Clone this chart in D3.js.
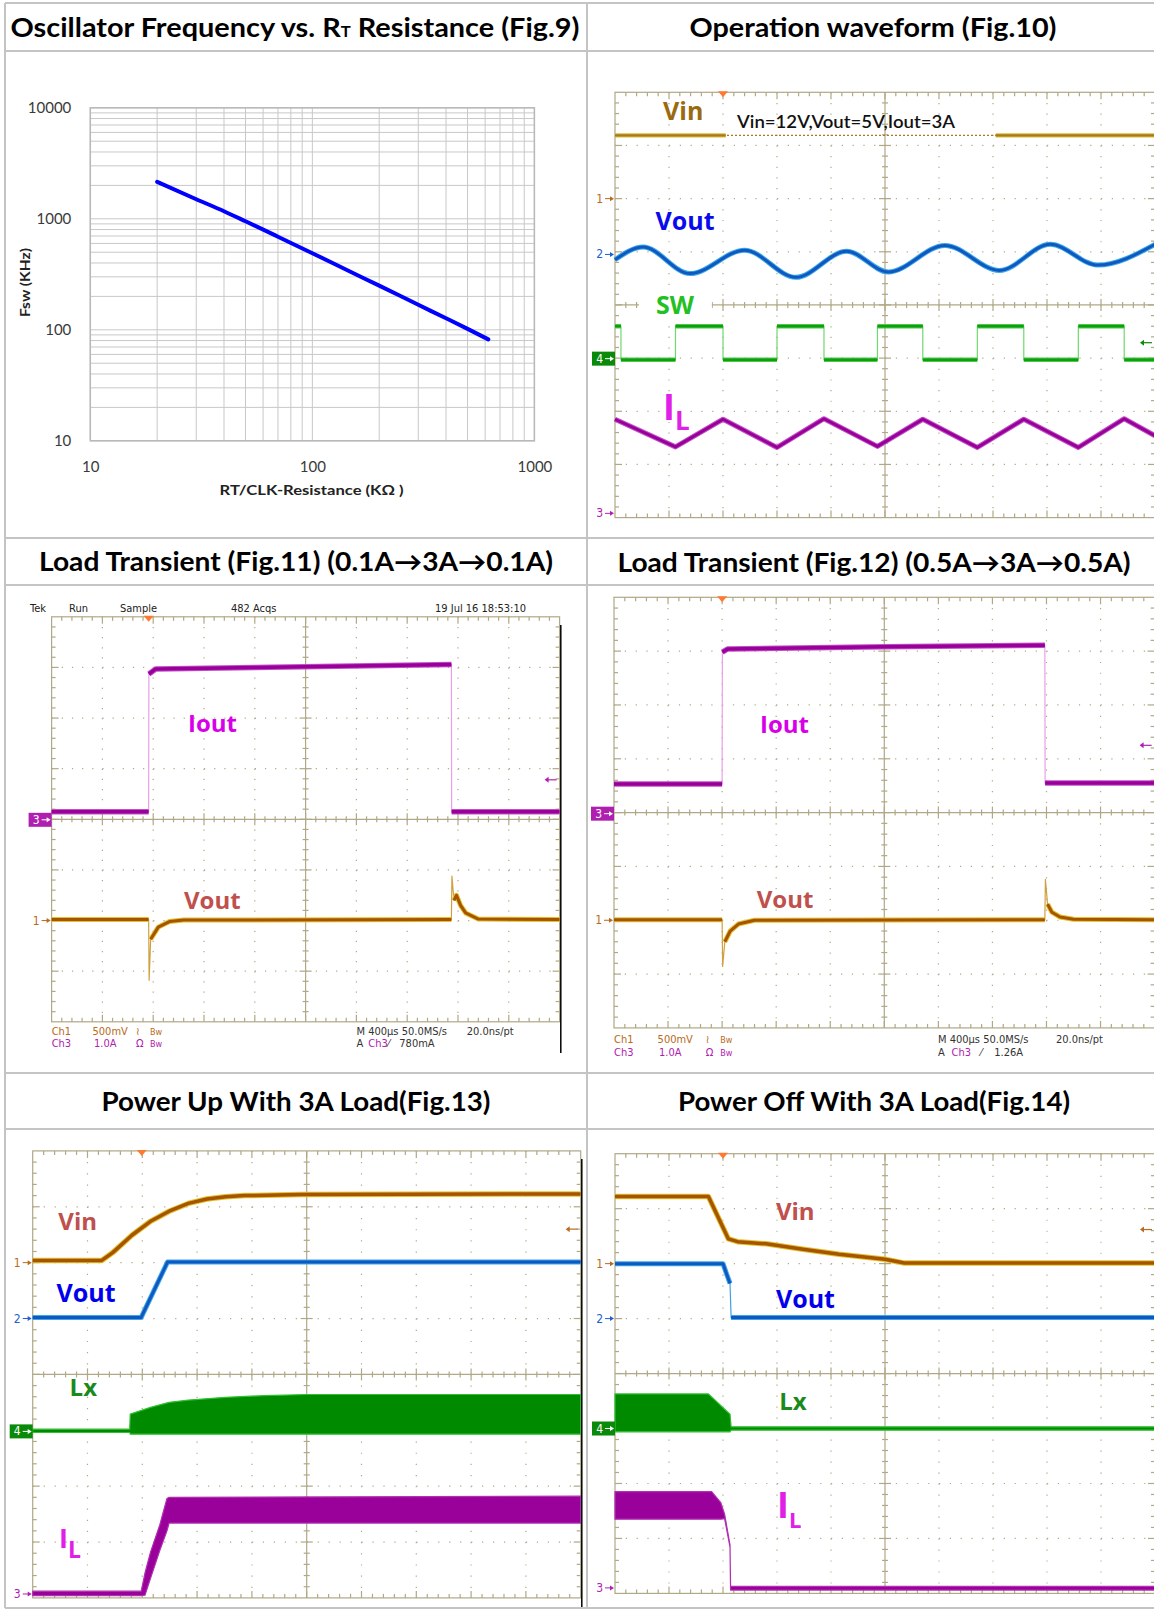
<!DOCTYPE html>
<html>
<head>
<meta charset="utf-8">
<script src="https://cdnjs.cloudflare.com/ajax/libs/d3/7.8.5/d3.min.js"></script>
<style>
  body { margin: 0; background: #fff; }
  svg { display: block; }
</style>
</head>
<body>
<svg id="chart" width="1154" height="1610"></svg>
<script>
// ---------- data ----------
// Fig.9 : oscillator frequency vs RT resistance
const fig9Resistance = [20, 30, 40, 50, 70, 100, 150, 200, 300, 400, 500, 620];
const fig9Fsw = [2150, 1500, 1170, 950, 690, 490, 330, 250, 168, 127, 102, 82];
const fig9XTicks = [10, 100, 1000];
const fig9YTicks = [10, 100, 1000, 10000];

// scope traces: time in divisions (0..10), level in divisions from bottom (0..8)
// Fig.10 operation waveform
const fig10VinLevel = 7.19;
const fig10VinBursts = [[0, 2.05], [7.05, 10]];
const fig10VoutT = [0, 0.52, 1.39, 2.40, 3.35, 4.29, 5.06, 6.11, 7.12, 8.06, 8.94, 10];
const fig10VoutV = [4.85, 5.09, 4.59, 5.03, 4.52, 5.01, 4.62, 5.12, 4.65, 5.14, 4.75, 5.14];
const fig10SwT = [0, 0.11, 1.12, 2.0, 3.0, 3.87, 4.86, 5.7, 6.71, 7.57, 8.58, 9.43, 10];
const fig10SwV = [3.6, 2.97, 3.6, 2.97, 3.6, 2.97, 3.6, 2.97, 3.6, 2.97, 3.6, 2.97, 2.97];
const fig10IlT = [0, 1.12, 2.0, 3.0, 3.87, 4.86, 5.7, 6.71, 7.57, 8.58, 9.43, 10];
const fig10IlV = [1.85, 1.33, 1.85, 1.32, 1.86, 1.34, 1.85, 1.32, 1.85, 1.32, 1.86, 1.54];

// Fig.11 load transient 0.1A -> 3A -> 0.1A
const fig11IoutT = [0, 1.91, 1.915, 2.05, 4.0, 7.87, 7.875, 10];
const fig11IoutV = [4.15, 4.15, 6.87, 6.97, 7.0, 7.06, 4.15, 4.15];
const fig11VoutT = [0, 1.91, 1.92, 1.95, 2.1, 2.32, 2.6, 7.87, 7.88, 7.92, 7.97, 8.05, 8.15, 8.4, 10];
const fig11VoutV = [2.02, 2.02, 0.82, 1.63, 1.87, 1.98, 2.01, 2.02, 2.88, 2.4, 2.5, 2.3, 2.15, 2.03, 2.02];

// Fig.12 load transient 0.5A -> 3A -> 0.5A
const fig12IoutT = [0, 2.0, 2.005, 2.1, 5.0, 7.97, 7.975, 10];
const fig12IoutV = [4.53, 4.53, 6.98, 7.04, 7.08, 7.11, 4.55, 4.55];
const fig12VoutT = [0, 2.0, 2.01, 2.05, 2.15, 2.3, 2.6, 7.97, 7.98, 8.02, 8.1, 8.25, 8.5, 10];
const fig12VoutV = [2.01, 2.01, 1.14, 1.6, 1.8, 1.93, 2.0, 2.01, 2.76, 2.3, 2.15, 2.06, 2.02, 2.01];

// Fig.13 power up with 3A load
const fig13VinT = [0, 1.26, 1.46, 1.81, 2.15, 2.49, 2.84, 3.18, 3.52, 3.87, 4.9, 10];
const fig13VinV = [6.04, 6.04, 6.18, 6.49, 6.74, 6.92, 7.06, 7.14, 7.18, 7.2, 7.22, 7.23];
const fig13VoutT = [0, 1.98, 2.46, 10];
const fig13VoutV = [5.02, 5.02, 6.01, 6.01];
const fig13LxT = [0, 1.77, 1.78, 2.15, 2.49, 2.84, 3.52, 4.21, 5.0, 10];
const fig13LxTop = [3.02, 3.02, 3.29, 3.41, 3.5, 3.54, 3.59, 3.62, 3.64, 3.64];
const fig13LxBottom = [2.96, 2.96, 2.93, 2.93, 2.93, 2.93, 2.93, 2.93, 2.93, 2.93];
const fig13IlT = [0, 1.98, 2.05, 2.15, 2.32, 2.45, 2.49, 10];
const fig13IlTop = [0.12, 0.12, 0.45, 0.82, 1.31, 1.78, 1.8, 1.82];
const fig13IlBottom = [0.04, 0.04, 0.05, 0.35, 0.85, 1.2, 1.34, 1.34];

// Fig.14 power off with 3A load
const fig14VinT = [0, 1.73, 2.1, 2.27, 2.8, 3.48, 4.15, 5.0, 5.36, 10];
const fig14VinV = [7.22, 7.22, 6.45, 6.4, 6.36, 6.26, 6.17, 6.08, 6.01, 6.01];
const fig14VoutT = [0, 2.0, 2.06, 2.13, 2.15, 10];
const fig14VoutV = [6.0, 6.0, 5.83, 5.64, 5.02, 5.02];
const fig14LxT = [0, 1.73, 2.13, 2.15, 10];
const fig14LxTop = [3.63, 3.63, 3.26, 3.03, 3.03];
const fig14LxBottom = [2.94, 2.94, 2.94, 2.97, 2.97];
const fig14IlT = [0, 1.79, 1.96, 2.03, 2.13, 2.14, 10];
const fig14IlTop = [1.85, 1.85, 1.65, 1.44, 0.88, 0.13, 0.13];
const fig14IlBottom = [1.35, 1.35, 1.35, 1.36, 0.84, 0.06, 0.06];

// ---------- styles ----------
const svg = d3.select("#chart");
const TITLE_FONT = "Lato, 'DejaVu Sans', sans-serif";
const LABEL_FONT = "'Open Sans', 'Noto Sans', sans-serif";
const TEK_FONT = "'Liberation Sans Narrow', 'DejaVu Sans Condensed', 'Liberation Sans', sans-serif";
const GRID = "#b0a886";
const C1 = { thin: "#d0a040", glow: "#e2c230", main: "#a65400", mark: "#b86a20" };
const C1b = { thin: "#c8a040", glow: "#d8be40", main: "#a87a1c", mark: "#b86a20" };
const C2 = { thin: "#40a0e0", glow: "#38a8e8", main: "#1058c0", mark: "#2060d0" };
const C3 = { thin: "#e8a0e8", glow: "#c050c8", main: "#990099", mark: "#b020b0" };
const C4 = { thin: "#70d870", glow: "#40d040", main: "#169a16", mark: "#0a8a0a" };

// ---------- table frame ----------
const rowLines = [3, 51, 538, 585, 1073, 1129, 1608];
const colLines = [5, 587];
const frame = svg.append("g").attr("stroke", "#c4c4c4").attr("stroke-width", 2);
rowLines.forEach(y => frame.append("line").attr("x1", 5).attr("x2", 1154).attr("y1", y).attr("y2", y));
colLines.forEach(x => frame.append("line").attr("x1", x).attr("x2", x).attr("y1", 3).attr("y2", 1608));

const titles = [
  { x: 295, y: 37, len: 569, parts: ["Oscillator Frequency vs. R", "T", " Resistance (Fig.9)"] },
  { x: 873, y: 37, len: 367, parts: ["Operation waveform (Fig.10)"] },
  { x: 296, y: 571, len: 514, parts: ["Load Transient (Fig.11) (0.1A\u21923A\u21920.1A)"] },
  { x: 874, y: 572, len: 513, parts: ["Load Transient (Fig.12) (0.5A\u21923A\u21920.5A)"] },
  { x: 296, y: 1111, len: 389, parts: ["Power Up With 3A Load(Fig.13)"] },
  { x: 874, y: 1111, len: 392, parts: ["Power Off With 3A Load(Fig.14)"] }
];
titles.forEach(t => {
  const txt = svg.append("text").attr("x", t.x).attr("y", t.y)
    .attr("text-anchor", "middle").attr("font-family", TITLE_FONT)
    .attr("font-weight", 700).attr("font-size", 26).attr("fill", "#000")
    .attr("textLength", t.len).attr("lengthAdjust", "spacingAndGlyphs");
  t.parts.forEach((p, i) => {
    const s = txt.append("tspan").text(p);
    if (t.parts.length > 1 && i === 1) s.attr("font-size", 15);
  });
});

// ---------- Fig.9 ----------
{
  const x = d3.scaleLog().domain([10, 1000]).range([90.3, 534.4]);
  const y = d3.scaleLog().domain([10, 10000]).range([440.8, 107.8]);
  const g = svg.append("g");
  const grid = g.append("g").attr("stroke", "#c8c8c8").attr("stroke-width", 1);
  x.ticks().forEach(v => grid.append("line").attr("x1", x(v)).attr("x2", x(v)).attr("y1", y(10)).attr("y2", y(10000)));
  y.ticks().forEach(v => grid.append("line").attr("y1", y(v)).attr("y2", y(v)).attr("x1", x(10)).attr("x2", x(1000)));
  g.append("rect").attr("x", x(10)).attr("y", y(10000)).attr("width", x(1000) - x(10)).attr("height", y(10) - y(10000))
    .attr("fill", "none").attr("stroke", "#b8b8b8").attr("stroke-width", 1.5);

  const ya = g.append("g").attr("transform", `translate(${x(10)},0)`)
    .call(d3.axisLeft(y).tickValues(fig9YTicks).tickFormat(d3.format("d")).tickSize(0).tickPadding(19));
  const xa = g.append("g").attr("transform", `translate(0,${y(10)})`)
    .call(d3.axisBottom(x).tickValues(fig9XTicks).tickFormat(d3.format("d")).tickSize(0).tickPadding(21));
  [ya, xa].forEach(a => {
    a.select(".domain").remove();
    a.selectAll("text").attr("font-family", TITLE_FONT).attr("font-size", 15).attr("fill", "#3a3a3a");
  });

  g.append("text").attr("x", 311.6).attr("y", 495).attr("text-anchor", "middle")
    .attr("font-family", TITLE_FONT).attr("font-weight", 700).attr("font-size", 14).attr("fill", "#222")
    .attr("textLength", 184).attr("lengthAdjust", "spacingAndGlyphs")
    .text("RT/CLK-Resistance (K\u03a9 )");
  g.append("text").attr("transform", "translate(30,282.5) rotate(-90)").attr("text-anchor", "middle")
    .attr("font-family", TITLE_FONT).attr("font-weight", 700).attr("font-size", 14).attr("fill", "#222")
    .attr("textLength", 69).attr("lengthAdjust", "spacingAndGlyphs")
    .text("Fsw (KHz)");

  const line = d3.line().x((d, i) => x(fig9Resistance[i])).y(d => y(d)).curve(d3.curveMonotoneX);
  g.append("path").attr("d", line(fig9Fsw)).attr("fill", "none")
    .attr("stroke", "#0000ff").attr("stroke-width", 4).attr("stroke-linecap", "round");
}

// ---------- scope helpers ----------
function makeScope(b) {
  const g = svg.append("g");
  const x = d3.scaleLinear().domain([0, 10]).range([b.x, b.x + b.w]);
  const y = d3.scaleLinear().domain([0, 8]).range([b.y + b.h, b.y]);
  const sx = b.w / 50, sy = b.h / 40;
  const grid = g.append("g").attr("stroke", GRID).attr("fill", "none").attr("stroke-width", 1.2);
  d3.range(1, 10).filter(i => i !== 5).forEach(i =>
    grid.append("line").attr("x1", x(i)).attr("x2", x(i)).attr("y1", b.y).attr("y2", b.y + b.h)
      .attr("stroke-dasharray", `1.2 ${sy - 1.2}`));
  d3.range(1, 8).filter(i => i !== 4).forEach(i =>
    grid.append("line").attr("y1", y(i)).attr("y2", y(i)).attr("x1", b.x).attr("x2", b.x + b.w)
      .attr("stroke-dasharray", `1.2 ${sx - 1.2}`));
  grid.append("rect").attr("x", b.x).attr("y", b.y).attr("width", b.w).attr("height", b.h);
  grid.append("line").attr("x1", x(5)).attr("x2", x(5)).attr("y1", b.y).attr("y2", b.y + b.h);
  grid.append("line").attr("y1", y(4)).attr("y2", y(4)).attr("x1", b.x).attr("x2", b.x + b.w);
  // ticks every 1/5 division on the border and the centre cross
  d3.range(1, 50).forEach(k => {
    const t = k / 5, big = k % 5 === 0, px = x(t);
    const L = big ? 7 : 4;
    grid.append("line").attr("x1", px).attr("x2", px).attr("y1", b.y).attr("y2", b.y + L);
    grid.append("line").attr("x1", px).attr("x2", px).attr("y1", b.y + b.h - L).attr("y2", b.y + b.h);
    grid.append("line").attr("x1", px).attr("x2", px).attr("y1", y(4) - L + 1).attr("y2", y(4) + L - 1);
  });
  d3.range(1, 40).forEach(k => {
    const v = k / 5, big = k % 5 === 0, py = y(v);
    const L = big ? 7 : 4;
    grid.append("line").attr("y1", py).attr("y2", py).attr("x1", b.x).attr("x2", b.x + L);
    grid.append("line").attr("y1", py).attr("y2", py).attr("x1", b.x + b.w - L).attr("x2", b.x + b.w);
    grid.append("line").attr("y1", py).attr("y2", py).attr("x1", x(5) - L + 1).attr("x2", x(5) + L - 1);
  });
  const traces = g.append("g").attr("fill", "none").attr("stroke-linejoin", "round");
  const labels = g.append("g");
  return { g, x, y, b, traces, labels };
}

function stepPoints(ts, vs) {
  const out = [[ts[0], vs[0]]];
  for (let i = 1; i < ts.length; i++) {
    out.push([ts[i], vs[i - 1]]);
    out.push([ts[i], vs[i]]);
  }
  return out;
}

function trace(sc, pts, c, width, curve) {
  const p = pts.map(d => [sc.x(d[0]), sc.y(d[1])]);
  const line = d3.line().curve(curve || d3.curveLinear);
  sc.traces.append("path").attr("d", line(p)).attr("stroke", c.thin).attr("stroke-width", 1.2);
  const runs = [];
  let cur = [p[0]];
  for (let i = 1; i < p.length; i++) {
    const ddx = Math.abs(p[i][0] - p[i - 1][0]), ddy = Math.abs(p[i][1] - p[i - 1][1]);
    if (ddy > 3 * ddx + 2) { if (cur.length > 1) runs.push(cur); cur = [p[i]]; }
    else cur.push(p[i]);
  }
  if (cur.length > 1) runs.push(cur);
  runs.forEach(r => {
    sc.traces.append("path").attr("d", line(r)).attr("stroke", c.glow).attr("stroke-width", width + 2);
    sc.traces.append("path").attr("d", line(r)).attr("stroke", c.main).attr("stroke-width", width);
  });
}

const zip = (ts, vs) => ts.map((t, i) => [t, vs[i]]);

function band(sc, ts, top, bottom, c) {
  const area = d3.area().x((d, i) => sc.x(ts[i])).y0((d, i) => sc.y(bottom[i])).y1(d => sc.y(d));
  sc.traces.append("path").attr("d", area(top)).attr("fill", c.main).attr("stroke", c.glow).attr("stroke-width", 1.2);
}

function label(sc, text, t, v, color, size) {
  return sc.labels.append("text").attr("x", sc.x(t)).attr("y", sc.y(v)).text(text)
    .attr("fill", color).attr("font-size", size).attr("font-family", LABEL_FONT).attr("font-weight", 700);
}

function ilLabel(sc, t, v, size1, size2, color) {
  const txt = label(sc, "I", t, v, color, size1);
  txt.append("tspan").attr("dy", 10).attr("font-size", size2).text("L");
}

function markers(sc, list) {
  list.forEach(m => {
    const py = sc.y(m.v), x0 = sc.b.x;
    const col = m.c.mark;
    if (m.boxed) {
      sc.labels.append("rect").attr("x", x0 - 23).attr("y", py - 7).attr("width", 23).attr("height", 14).attr("fill", col);
    }
    const fg = m.boxed ? "#fff" : col;
    sc.labels.append("text").attr("x", x0 - 12).attr("y", py + 4).attr("text-anchor", "end")
      .attr("font-family", TEK_FONT).attr("font-size", 12).attr("fill", fg).text(m.ch);
    sc.labels.append("line").attr("x1", x0 - 10).attr("x2", x0 - 3).attr("y1", py).attr("y2", py)
      .attr("stroke", fg).attr("stroke-width", 1);
    sc.labels.append("path").attr("d", `M${x0 - 1},${py} l-4,-2.5 v5 z`).attr("fill", fg);
  });
}

function levelArrow(sc, v, c) {
  const py = sc.y(v), xr = sc.b.x + sc.b.w;
  sc.labels.append("line").attr("x1", xr - 13).attr("x2", xr - 3).attr("y1", py).attr("y2", py)
    .attr("stroke", c.mark).attr("stroke-width", 1.2);
  sc.labels.append("path").attr("d", `M${xr - 15},${py} l4,-3 v6 z`).attr("fill", c.mark);
}

function trigger(sc, t) {
  const px = sc.x(t), py = sc.b.y;
  sc.labels.append("path").attr("d", `M${px - 5},${py - 1} h10 l-5,6 z`).attr("fill", "#ff7a30");
}

function tekText(items, base) {
  items.forEach(d => svg.append("text").attr("x", d[1]).attr("y", base + (d[3] || 0))
    .attr("font-family", TEK_FONT).attr("font-size", d[4] || 11).attr("fill", d[2]).text(d[0]));
}

// ---------- Fig.10 ----------
{
  const sc = makeScope({ x: 615, y: 92.3, w: 540, h: 425.3 });
  sc.traces.append("path").attr("d", d3.line()([[sc.x(0), sc.y(fig10VinLevel)], [sc.x(10), sc.y(fig10VinLevel)]]))
    .attr("stroke", C1b.main).attr("stroke-width", 1.2).attr("stroke-dasharray", "2 2");
  fig10VinBursts.forEach(s => trace(sc, [[s[0], fig10VinLevel], [s[1], fig10VinLevel]], C1b, 2.2));
  trace(sc, zip(fig10VoutT, fig10VoutV), C2, 3, d3.curveMonotoneX);
  trace(sc, stepPoints(fig10SwT, fig10SwV), C4, 2.5);
  trace(sc, zip(fig10IlT, fig10IlV), C3, 3);

  label(sc, "Vin", 0.89, 7.48, "#9a6a10", 25);
  sc.labels.append("text").attr("x", sc.x(2.26)).attr("y", sc.y(7.33))
    .attr("font-family", TITLE_FONT).attr("font-weight", 600).attr("font-size", 17).attr("fill", "#111")
    .attr("textLength", 218).attr("lengthAdjust", "spacingAndGlyphs").text("Vin=12V,Vout=5V,Iout=3A");
  label(sc, "Vout", 0.75, 5.41, "#0a0aee", 25);
  const sw = label(sc, "SW", 0.76, 3.83, "#22c022", 25);
  const bb = sw.node().getBBox();
  sc.labels.insert("rect", "text").attr("x", bb.x - 17).attr("y", bb.y + 2).attr("width", bb.width + 34)
    .attr("height", bb.height - 4).attr("fill", "#fff");
  ilLabel(sc, 0.89, 1.84, 36, 26, "#e020e8");

  markers(sc, [{ ch: "1", v: 6.0, c: C1 }, { ch: "2", v: 4.95, c: C2 }, { ch: "4", v: 2.99, c: C4, boxed: true }, { ch: "3", v: 0.08, c: C3 }]);
  levelArrow(sc, 3.29, C4);
  trigger(sc, 2.0);
}

// ---------- Fig.11 ----------
{
  const sc = makeScope({ x: 51.6, y: 616.8, w: 508, h: 405 });
  trace(sc, zip(fig11IoutT, fig11IoutV), C3, 3.5);
  trace(sc, zip(fig11VoutT, fig11VoutV), C1, 3);
  label(sc, "Iout", 2.685, 5.72, "#d800e8", 24);
  label(sc, "Vout", 2.606, 2.235, "#c0504d", 24);
  markers(sc, [{ ch: "3", v: 3.99, c: C3, boxed: true }, { ch: "1", v: 2.0, c: C1 }]);
  levelArrow(sc, 4.78, C3);
  trigger(sc, 1.91);
  svg.append("line").attr("x1", 560.8).attr("x2", 560.8).attr("y1", 625).attr("y2", 1053).attr("stroke", "#000").attr("stroke-width", 1.5);
  tekText([["Tek", 30, "#222"], ["Run", 69, "#222"], ["Sample", 120, "#222"], ["482 Acqs", 231, "#222"], ["19 Jul 16 18:53:10", 435, "#222"]], 612.3);
  tekText([["Ch1", 51.7, C1.mark], ["500mV", 92.5, C1.mark], ["\u2240", 136, C1.mark], ["Bw", 150, C1.mark, 0, 9],
    ["M 400\u00b5s 50.0MS/s", 356.5, "#333"], ["20.0ns/pt", 466.7, "#333"]], 1035.4);
  tekText([["Ch3", 51.7, C3.mark], ["1.0A", 94, C3.mark], ["\u03a9", 136, C3.mark], ["Bw", 150, C3.mark, 0, 9],
    ["A", 356.5, "#333"], ["Ch3", 368.3, C3.mark], ["\u2044", 388, "#333"], ["780mA", 399.3, "#333"]], 1047.2);
}

// ---------- Fig.12 ----------
{
  const sc = makeScope({ x: 614, y: 597.3, w: 540.6, h: 430.6 });
  trace(sc, zip(fig12IoutT, fig12IoutV), C3, 3.5);
  trace(sc, zip(fig12VoutT, fig12VoutV), C1, 3);
  label(sc, "Iout", 2.70, 5.48, "#d800e8", 24);
  label(sc, "Vout", 2.64, 2.23, "#c0504d", 24);
  markers(sc, [{ ch: "3", v: 3.98, c: C3, boxed: true }, { ch: "1", v: 2.0, c: C1 }]);
  levelArrow(sc, 5.25, C3);
  trigger(sc, 2.0);
  tekText([["Ch1", 614, C1.mark], ["500mV", 657.6, C1.mark], ["\u2240", 705.8, C1.mark], ["Bw", 720.3, C1.mark, 0, 9],
    ["M 400\u00b5s 50.0MS/s", 938, "#333"], ["20.0ns/pt", 1056, "#333"]], 1043.2);
  tekText([["Ch3", 614, C3.mark], ["1.0A", 659, C3.mark], ["\u03a9", 705.8, C3.mark], ["Bw", 720.3, C3.mark, 0, 9],
    ["A", 938, "#333"], ["Ch3", 951.5, C3.mark], ["\u2044", 980.5, "#333"], ["1.26A", 994.3, "#333"]], 1055.9);
}

// ---------- Fig.13 ----------
{
  const sc = makeScope({ x: 32.7, y: 1150.9, w: 548, h: 447 });
  band(sc, fig13LxT, fig13LxTop, fig13LxBottom, { main: "#008a00", glow: "#30c030" });
  band(sc, fig13IlT, fig13IlTop, fig13IlBottom, { main: "#9a009a", glow: "#b030b0" });
  trace(sc, zip(fig13VinT, fig13VinV), C1, 3.5);
  trace(sc, zip(fig13VoutT, fig13VoutV), C2, 3);
  label(sc, "Vin", 0.467, 6.585, "#c0504d", 24);
  label(sc, "Vout", 0.434, 5.29, "#0000ee", 25);
  label(sc, "Lx", 0.673, 3.61, "#1a8a1a", 24);
  ilLabel(sc, 0.48, 0.885, 27, 23, "#e020e8");
  markers(sc, [{ ch: "1", v: 6.0, c: C1 }, { ch: "2", v: 5.0, c: C2 }, { ch: "4", v: 2.98, c: C4, boxed: true }, { ch: "3", v: 0.07, c: C3 }]);
  levelArrow(sc, 6.6, C1);
  trigger(sc, 1.99);
  svg.append("line").attr("x1", 581.8).attr("x2", 581.8).attr("y1", 1159).attr("y2", 1607).attr("stroke", "#000").attr("stroke-width", 1.5);
}

// ---------- Fig.14 ----------
{
  const sc = makeScope({ x: 615, y: 1153.7, w: 540, h: 439.7 });
  band(sc, fig14LxT, fig14LxTop, fig14LxBottom, { main: "#008a00", glow: "#30c030" });
  band(sc, fig14IlT, fig14IlTop, fig14IlBottom, { main: "#9a009a", glow: "#b030b0" });
  trace(sc, zip(fig14VinT, fig14VinV), C1, 3.5);
  trace(sc, zip(fig14VoutT, fig14VoutV), C2, 3);
  label(sc, "Vin", 2.98, 6.8, "#c0504d", 24);
  label(sc, "Vout", 2.98, 5.19, "#0000ee", 25);
  label(sc, "Lx", 3.04, 3.33, "#1a8a1a", 24);
  ilLabel(sc, 3.0, 1.38, 36, 22, "#e020e8");
  markers(sc, [{ ch: "1", v: 6.0, c: C1 }, { ch: "2", v: 5.0, c: C2 }, { ch: "4", v: 3.0, c: C4, boxed: true }, { ch: "3", v: 0.1, c: C3 }]);
  levelArrow(sc, 6.62, C1);
  trigger(sc, 2.0);
}
</script>
</body>
</html>
